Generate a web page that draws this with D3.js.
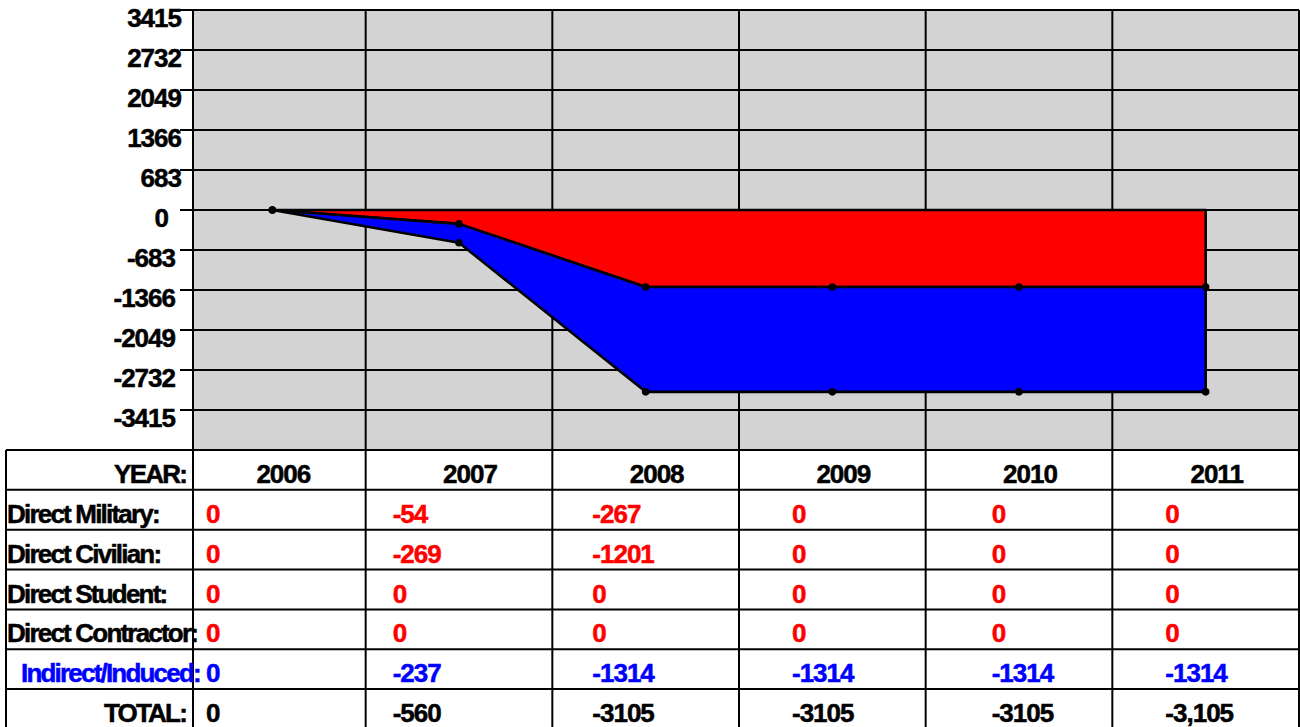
<!DOCTYPE html>
<html>
<head>
<meta charset="utf-8">
<script src="https://cdn.jsdelivr.net/npm/d3@7"></script>
<style>
  body { margin: 0; background: #fff; }
  text { font-family: "Liberation Sans", Arial, sans-serif; font-weight: bold; font-size: 26px; letter-spacing: -1px; stroke-width: 0.5px; }
</style>
</head>
<body>
<svg id="chart"></svg>
<script>
const years = ['2006', '2007', '2008', '2009', '2010', '2011'];
const directMilitary = [0, -54, -267, 0, 0, 0];
const directCivilian = [0, -269, -1201, 0, 0, 0];
const directStudent = [0, 0, 0, 0, 0, 0];
const directContractor = [0, 0, 0, 0, 0, 0];
const indirectInduced = [0, -237, -1314, -1314, -1314, -1314];
const totals = [0, -560, -3105, -3105, -3105, -3105];
const totalLabels = ['0', '-560', '-3105', '-3105', '-3105', '-3,105'];
const yTicks = [3415, 2732, 2049, 1366, 683, 0, -683, -1366, -2049, -2732, -3415];

const width = 1300;
const height = 727;
const plotLeft = 193, plotRight = 1299, plotTop = 10, plotBottom = 450;
const tableLeft = 6, rowH = 39.85;
// left offset of the value text inside each year column
const cellPad = [13, 27, 40, 53, 66, 53];

const svg = d3.select('#chart').attr('width', width).attr('height', height);

const x = d3.scaleBand().domain(years).range([179, plotRight]);
const cx = d => x(d) + x.bandwidth() / 2;
const y = d3.scaleLinear().domain([-4098, 3415]).range([plotBottom, plotTop]);

// plot background
svg.append('rect')
  .attr('x', plotLeft).attr('y', plotTop)
  .attr('width', plotRight - plotLeft).attr('height', plotBottom - plotTop)
  .attr('fill', '#d3d3d3');

// horizontal grid + ticks
svg.append('g').selectAll('line')
  .data(yTicks)
  .enter().append('line')
  .attr('x1', 180).attr('x2', plotRight)
  .attr('y1', d => y(d)).attr('y2', d => y(d))
  .attr('stroke', '#000').attr('stroke-width', 2);

svg.append('g').selectAll('text')
  .data(yTicks)
  .enter().append('text')
  .attr('x', d => d < 0 ? 175 : d === 0 ? 168 : 181)
  .attr('y', d => y(d) + 17)
  .attr('text-anchor', 'end')
  .attr('fill', '#000').attr('stroke', '#000')
  .text(d => d);

// vertical grid lines (band edges)
const vlines = [plotLeft].concat(years.slice(1).map(d => x(d))).concat([plotRight]);
svg.append('g').selectAll('line')
  .data(vlines)
  .enter().append('line')
  .attr('x1', d => d).attr('x2', d => d)
  .attr('y1', plotTop).attr('y2', plotBottom + rowH * 7)
  .attr('stroke', '#000').attr('stroke-width', 2);

// stacked areas
const pts = years.map((yr, i) => ({ yr, ind: indirectInduced[i], tot: totals[i] }));

svg.append('path')
  .datum(pts)
  .attr('d', d3.area().x(d => cx(d.yr)).y0(y(0)).y1(d => y(d.ind)))
  .attr('fill', '#ff0000')
  .attr('stroke', '#000').attr('stroke-width', 2.6).attr('stroke-linejoin', 'round');

svg.append('path')
  .datum(pts)
  .attr('d', d3.area().x(d => cx(d.yr)).y0(d => y(d.ind)).y1(d => y(d.tot)))
  .attr('fill', '#0000ff')
  .attr('stroke', '#000').attr('stroke-width', 2.6).attr('stroke-linejoin', 'round');

const dots = pts.flatMap(d => [{ yr: d.yr, v: d.ind }, { yr: d.yr, v: d.tot }]);
svg.append('g').selectAll('circle')
  .data(dots)
  .enter().append('circle')
  .attr('cx', d => cx(d.yr))
  .attr('cy', d => y(d.v))
  .attr('r', 3.8)
  .attr('fill', '#000');

// data table
const rows = [
  { label: 'YEAR:', values: years, color: '#000', labelColor: '#000', align: 'end' },
  { label: 'Direct Military:', values: directMilitary, color: '#ff0000', labelColor: '#000', align: 'start' },
  { label: 'Direct Civilian:', values: directCivilian, color: '#ff0000', labelColor: '#000', align: 'start' },
  { label: 'Direct Student:', values: directStudent, color: '#ff0000', labelColor: '#000', align: 'start' },
  { label: 'Direct Contractor:', values: directContractor, color: '#ff0000', labelColor: '#000', align: 'start' },
  { label: 'Indirect/Induced:', values: indirectInduced, color: '#0000ff', labelColor: '#0000ff', align: 'indent' },
  { label: 'TOTAL:', values: totalLabels, color: '#000', labelColor: '#000', align: 'end' }
];

const table = svg.append('g');

table.selectAll('line.row')
  .data(d3.range(rows.length + 1))
  .enter().append('line')
  .attr('x1', tableLeft).attr('x2', plotRight)
  .attr('y1', i => plotBottom + i * rowH).attr('y2', i => plotBottom + i * rowH)
  .attr('stroke', '#000').attr('stroke-width', 2);

table.append('line')
  .attr('x1', tableLeft).attr('x2', tableLeft)
  .attr('y1', plotBottom).attr('y2', plotBottom + rowH * rows.length)
  .attr('stroke', '#000').attr('stroke-width', 2);

rows.forEach((row, r) => {
  const baseY = plotBottom + r * rowH + 33;
  table.append('text')
    .attr('x', row.align === 'end' ? 186 : row.align === 'indent' ? 21 : 7)
    .attr('y', baseY)
    .attr('text-anchor', row.align === 'end' ? 'end' : 'start')
    .style('letter-spacing', '-1.8px')
    .attr('fill', row.labelColor).attr('stroke', row.labelColor)
    .text(row.label);

  table.selectAll(null)
    .data(row.values)
    .enter().append('text')
    .attr('x', (d, i) => r === 0 ? cx(years[i]) + 11 : Math.max(x(years[i]), plotLeft) + cellPad[i])
    .attr('y', baseY)
    .attr('text-anchor', r === 0 ? 'middle' : 'start')
    .attr('fill', row.color).attr('stroke', row.color)
    .text(d => d);
});
</script>
</body>
</html>
